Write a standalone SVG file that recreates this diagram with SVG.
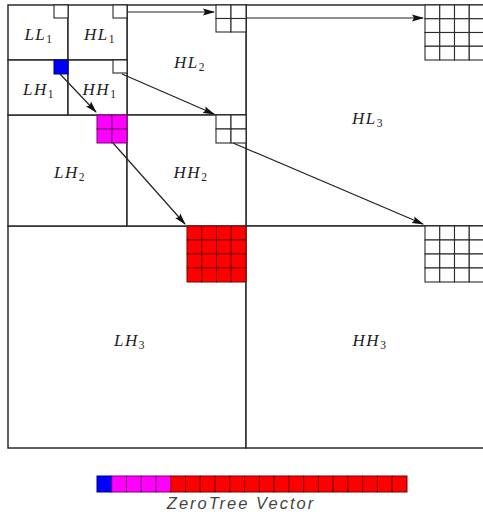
<svg xmlns="http://www.w3.org/2000/svg" width="483" height="517" viewBox="0 0 483 517">
<defs>
<style>
.band{fill:#fff;stroke:#2b2b2b;stroke-width:1.5}
.cell{fill:#fff;stroke:#2b2b2b;stroke-width:1.1}
.red{fill:#ff0000;stroke:#7a0000;stroke-width:1}
.mag{fill:#ff00ff;stroke:#7a007a;stroke-width:1}
.blue{fill:#0000ff;stroke:#00007a;stroke-width:1}
.lbl{font-family:"Liberation Serif","DejaVu Serif",serif;font-style:italic;font-size:17px;fill:#222;text-anchor:middle;letter-spacing:1.5px}
.sub{font-size:11.5px;font-style:normal}
.conn{stroke:#222;stroke-width:1.2;fill:none;marker-end:url(#ah)}
.cap{font-family:"Liberation Sans",Arial,sans-serif;font-style:italic;font-size:16.5px;fill:#444;text-anchor:middle;letter-spacing:2px}
</style>
<marker id="ah" markerUnits="userSpaceOnUse" markerWidth="12" markerHeight="8" refX="11" refY="4" orient="auto">
<path d="M0,0.5 L12,4 L0,7.5 L2,4 z" fill="#111"/>
</marker>
</defs>
<rect width="483" height="517" fill="#fff"/>

<g id="HL3"><rect class="band" x="246" y="5" width="238" height="221"/><text class="lbl" x="368" y="124">HL<tspan class="sub" dy="3">3</tspan></text></g>
<g id="LH3"><rect class="band" x="8" y="226" width="238" height="222"/><text class="lbl" x="130" y="346">LH<tspan class="sub" dy="3">3</tspan></text></g>
<g id="HH3"><rect class="band" x="246" y="226" width="238" height="222"/><text class="lbl" x="370" y="346">HH<tspan class="sub" dy="3">3</tspan></text></g>
<g id="HL2"><rect class="band" x="127" y="5" width="119" height="110"/><text class="lbl" x="190" y="68">HL<tspan class="sub" dy="3">2</tspan></text></g>
<g id="LH2"><rect class="band" x="8" y="115" width="119" height="111"/><text class="lbl" x="70" y="178">LH<tspan class="sub" dy="3">2</tspan></text></g>
<g id="HH2"><rect class="band" x="127" y="115" width="119" height="111"/><text class="lbl" x="191" y="178">HH<tspan class="sub" dy="3">2</tspan></text></g>
<g id="LL1"><rect class="band" x="8" y="5" width="60" height="55"/><text class="lbl" x="39" y="40">LL<tspan class="sub" dy="3">1</tspan></text></g>
<g id="HL1"><rect class="band" x="68" y="5" width="59" height="55"/><text class="lbl" x="100" y="40">HL<tspan class="sub" dy="3">1</tspan></text></g>
<g id="LH1"><rect class="band" x="8" y="60" width="60" height="55"/><text class="lbl" x="39" y="95">LH<tspan class="sub" dy="3">1</tspan></text></g>
<g id="HH1"><rect class="band" x="68" y="60" width="59" height="55"/><text class="lbl" x="100" y="95">HH<tspan class="sub" dy="3">1</tspan></text></g>

<g id="sq-LL1"><rect class="cell" x="54" y="5" width="14" height="13"/></g>
<g id="sq-HL1"><rect class="cell" x="113" y="5" width="14" height="13"/></g>
<g id="sq-HH1"><rect class="cell" x="113" y="60" width="14" height="13"/></g>
<g id="sq-blue"><rect class="blue" x="54" y="60" width="14" height="14"/></g>

<g id="grid-HL2" class="cell">
<rect x="216" y="5" width="15" height="13.5"/><rect x="231" y="5" width="15" height="13.5"/>
<rect x="216" y="18.5" width="15" height="13.5"/><rect x="231" y="18.5" width="15" height="13.5"/>
</g>
<g id="grid-HH2" class="cell">
<rect x="216" y="115" width="15" height="14"/><rect x="231" y="115" width="15" height="14"/>
<rect x="216" y="129" width="15" height="14"/><rect x="231" y="129" width="15" height="14"/>
</g>
<g id="grid-LH2" class="mag">
<rect x="97" y="115" width="15" height="14"/><rect x="112" y="115" width="15" height="14"/>
<rect x="97" y="129" width="15" height="14"/><rect x="112" y="129" width="15" height="14"/>
</g>

<g id="grid-HL3" class="cell">
<rect x="425" y="5" width="14.75" height="13.75"/><rect x="439.75" y="5" width="14.75" height="13.75"/><rect x="454.5" y="5" width="14.75" height="13.75"/><rect x="469.25" y="5" width="14.75" height="13.75"/>
<rect x="425" y="18.75" width="14.75" height="13.75"/><rect x="439.75" y="18.75" width="14.75" height="13.75"/><rect x="454.5" y="18.75" width="14.75" height="13.75"/><rect x="469.25" y="18.75" width="14.75" height="13.75"/>
<rect x="425" y="32.5" width="14.75" height="13.75"/><rect x="439.75" y="32.5" width="14.75" height="13.75"/><rect x="454.5" y="32.5" width="14.75" height="13.75"/><rect x="469.25" y="32.5" width="14.75" height="13.75"/>
<rect x="425" y="46.25" width="14.75" height="13.75"/><rect x="439.75" y="46.25" width="14.75" height="13.75"/><rect x="454.5" y="46.25" width="14.75" height="13.75"/><rect x="469.25" y="46.25" width="14.75" height="13.75"/>
</g>
<g id="grid-HH3" class="cell">
<rect x="425" y="226" width="14.75" height="14"/><rect x="439.75" y="226" width="14.75" height="14"/><rect x="454.5" y="226" width="14.75" height="14"/><rect x="469.25" y="226" width="14.75" height="14"/>
<rect x="425" y="240" width="14.75" height="14"/><rect x="439.75" y="240" width="14.75" height="14"/><rect x="454.5" y="240" width="14.75" height="14"/><rect x="469.25" y="240" width="14.75" height="14"/>
<rect x="425" y="254" width="14.75" height="14"/><rect x="439.75" y="254" width="14.75" height="14"/><rect x="454.5" y="254" width="14.75" height="14"/><rect x="469.25" y="254" width="14.75" height="14"/>
<rect x="425" y="268" width="14.75" height="14"/><rect x="439.75" y="268" width="14.75" height="14"/><rect x="454.5" y="268" width="14.75" height="14"/><rect x="469.25" y="268" width="14.75" height="14"/>
</g>
<g id="grid-LH3" class="red">
<rect x="187" y="226" width="14.75" height="14"/><rect x="201.75" y="226" width="14.75" height="14"/><rect x="216.5" y="226" width="14.75" height="14"/><rect x="231.25" y="226" width="14.75" height="14"/>
<rect x="187" y="240" width="14.75" height="14"/><rect x="201.75" y="240" width="14.75" height="14"/><rect x="216.5" y="240" width="14.75" height="14"/><rect x="231.25" y="240" width="14.75" height="14"/>
<rect x="187" y="254" width="14.75" height="14"/><rect x="201.75" y="254" width="14.75" height="14"/><rect x="216.5" y="254" width="14.75" height="14"/><rect x="231.25" y="254" width="14.75" height="14"/>
<rect x="187" y="268" width="14.75" height="14"/><rect x="201.75" y="268" width="14.75" height="14"/><rect x="216.5" y="268" width="14.75" height="14"/><rect x="231.25" y="268" width="14.75" height="14"/>
</g>

<g id="connectors">
<line class="conn" x1="128" y1="12" x2="214" y2="12"/>
<line class="conn" x1="246" y1="18" x2="423" y2="18"/>
<line class="conn" x1="122" y1="74" x2="214" y2="114"/>
<line class="conn" x1="60" y1="74" x2="96" y2="112"/>
<line class="conn" x1="113" y1="143" x2="185" y2="224"/>
<line class="conn" x1="233" y1="143" x2="423" y2="224"/>
</g>

<g id="zerotree-vector">
<rect x="97" y="476" width="14.76" height="16" class="blue"/>
<g class="mag">
<rect x="111.76" y="476" width="14.76" height="16"/><rect x="126.52" y="476" width="14.76" height="16"/><rect x="141.28" y="476" width="14.76" height="16"/><rect x="156.04" y="476" width="14.76" height="16"/>
</g>
<g class="red">
<rect x="170.8" y="476" width="14.76" height="16"/><rect x="185.56" y="476" width="14.76" height="16"/><rect x="200.32" y="476" width="14.76" height="16"/><rect x="215.08" y="476" width="14.76" height="16"/>
<rect x="229.84" y="476" width="14.76" height="16"/><rect x="244.6" y="476" width="14.76" height="16"/><rect x="259.36" y="476" width="14.76" height="16"/><rect x="274.12" y="476" width="14.76" height="16"/>
<rect x="288.88" y="476" width="14.76" height="16"/><rect x="303.64" y="476" width="14.76" height="16"/><rect x="318.4" y="476" width="14.76" height="16"/><rect x="333.16" y="476" width="14.76" height="16"/>
<rect x="347.92" y="476" width="14.76" height="16"/><rect x="362.68" y="476" width="14.76" height="16"/><rect x="377.44" y="476" width="14.76" height="16"/><rect x="392.2" y="476" width="14.8" height="16"/>
</g>
<text class="cap" x="241" y="509">ZeroTree Vector</text>
</g>
</svg>
